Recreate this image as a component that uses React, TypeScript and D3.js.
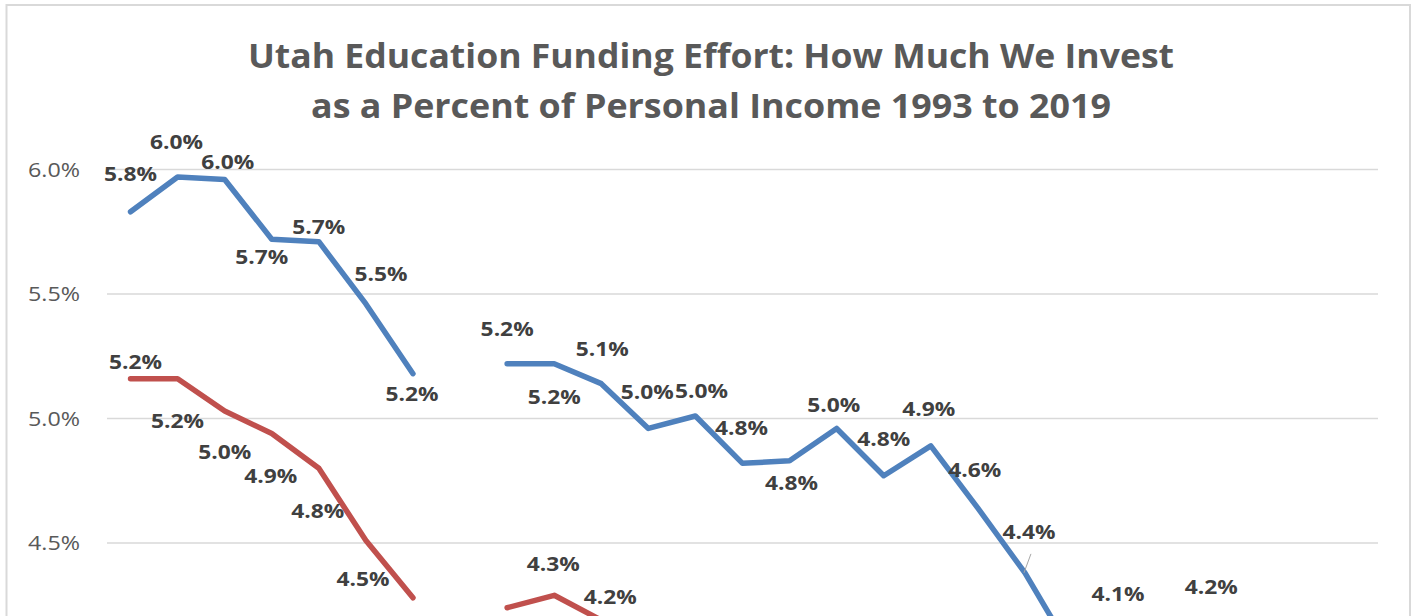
import React from "react";
import * as d3 from "d3";

const years = [1993, 1994, 1995, 1996, 1997, 1998, 1999, 2000, 2001, 2002, 2003, 2004, 2005, 2006, 2007, 2008, 2009, 2010, 2011, 2012, 2013, 2014, 2015, 2016, 2017, 2018, 2019];

const blueValues: (number | null)[] = [5.83, 5.97, 5.96, 5.72, 5.71, 5.46, 5.18, null, 5.22, 5.22, 5.14, 4.96, 5.01, 4.82, 4.83, 4.96, 4.77, 4.89, 4.64, 4.38, 4.06, 4.13, 4.1, 4.16, null, null, null];
const redValues: (number | null)[] = [5.16, 5.16, 5.03, 4.94, 4.8, 4.51, 4.28, null, 4.24, 4.29, 4.19, null, null, null, null, null, null, null, null, null, null, null, null, null, null, null, null];

const yTicks = [4.0, 4.5, 5.0, 5.5, 6.0];

const titleLines = [
  "Utah Education Funding Effort: How Much We Invest",
  "as a Percent of Personal Income 1993 to 2019",
];

// label placement (dx, dy from the point), layout only
const blueLabelOffsets: [number, number][] = [
  [0, -38], [-1, -35], [3, -18], [-10, 18], [0, -15], [15, -30], [-1, 20], [0, 0],
  [0, -35], [0, 33], [1, -35], [-1, -37], [6, -25], [-1, -36], [2, 22], [-3, -24],
  [0, -37], [-2, -37], [-3, -38], [4, -41], [0, 40], [-1, -41], [0, 40], [-2, -41],
  [0, 0], [0, 0], [0, 0],
];
const redLabelOffsets: [number, number][] = [
  [5, -17], [0, 42], [0, 41], [-1, 42], [-1, 42], [-3, 38], [0, 38], [0, 0],
  [0, 38], [-1, -31], [9, -23], [0, 0], [0, 0], [0, 0], [0, 0], [0, 0],
  [0, 0], [0, 0], [0, 0], [0, 0], [0, 0], [0, 0], [0, 0], [0, 0], [0, 0], [0, 0], [0, 0],
];

const W = 1417;
const H = 616;
const BLUE = "#4F81BD";
const RED = "#C0504D";
const FONT = "'Open Sans', 'DejaVu Sans', sans-serif";

export default function App() {
  const x = d3.scaleBand<number>().domain(years).range([107, 1378]).padding(0);
  const cx = (yr: number) => (x(yr) as number) + x.bandwidth() / 2;
  const y = d3.scaleLinear().domain([4.0, 6.0]).range([667.5, 169.5]);

  const makeLine = d3
    .line<number | null>()
    .defined((d) => d != null)
    .x((_, i) => cx(years[i]))
    .y((d) => y(d as number));

  const series = [
    { values: blueValues, color: BLUE, offsets: blueLabelOffsets },
    { values: redValues, color: RED, offsets: redLabelOffsets },
  ];

  // only texts that fall inside the visible frame are drawn
  const visible = (ty: number) => ty < H - 10;

  return (
    <svg
      width={W}
      height={H}
      style={{ position: "absolute", left: 0, top: 0, background: "#fff" }}
    >
      <rect x={0} y={0} width={W} height={H} fill="#fff" />
      <rect x={6.5} y={5} width={1403.5} height={700} fill="#fff" stroke="#d9d9d9" strokeWidth={2} />

      {titleLines.map((t, i) => (
        <text
          key={t}
          x={711}
          y={68 + i * 50}
          textAnchor="middle"
          fontFamily={FONT}
          fontWeight={700}
          fontSize={34}
          fill="#595959"
          textLength={i === 0 ? 926 : 800}
          lengthAdjust="spacingAndGlyphs"
        >
          {t}
        </text>
      ))}

      {yTicks.map((t) => (
        <g key={t}>
          <line x1={107} x2={1378} y1={y(t)} y2={y(t)} stroke="#d9d9d9" strokeWidth={1.5} />
          {visible(y(t)) && (
            <text
              x={80}
              y={y(t)}
              dy="0.36em"
              textAnchor="end"
              fontFamily={FONT}
              fontSize={19.5}
              fill="#595959"
              textLength={52}
              lengthAdjust="spacingAndGlyphs"
            >
              {t.toFixed(1) + "%"}
            </text>
          )}
        </g>
      ))}

      {series.map((s, si) => (
        <path
          key={"l" + si}
          d={makeLine(s.values) || ""}
          fill="none"
          stroke={s.color}
          strokeWidth={5.5}
          strokeLinejoin="round"
          strokeLinecap="round"
        />
      ))}

      {/* leader line for 2012 label */}
      <line
        x1={cx(2012) + 6}
        y1={y(blueValues[19] as number) - 19}
        x2={cx(2012) - 1}
        y2={y(blueValues[19] as number)}
        stroke="#a6a6a6"
        strokeWidth={1}
      />

      {series.map((s, si) =>
        s.values.map((v, i) => {
          if (v == null) return null;
          const ty = y(v) + s.offsets[i][1];
          if (!visible(ty)) return null;
          return (
            <text
              key={"t" + si + "-" + i}
              x={cx(years[i]) + s.offsets[i][0]}
              y={ty}
              dy="0.36em"
              textAnchor="middle"
              fontFamily={FONT}
              fontWeight={700}
              fontSize={20}
              fill="#404040"
              textLength={53}
              lengthAdjust="spacingAndGlyphs"
            >
              {v.toFixed(1) + "%"}
            </text>
          );
        })
      )}
    </svg>
  );
}
